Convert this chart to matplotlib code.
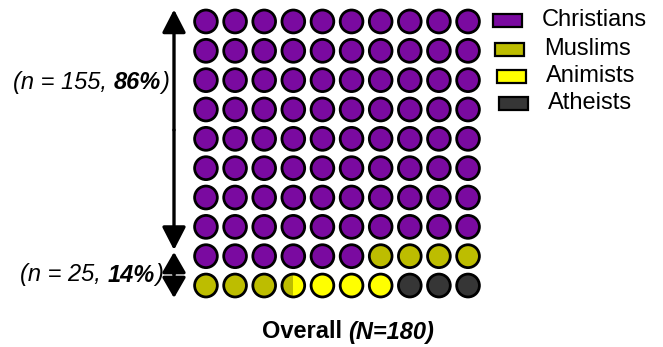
import matplotlib
matplotlib.use("Agg")
import matplotlib.pyplot as plt
from matplotlib.patches import Circle, Rectangle, FancyArrowPatch

plt.rcParams['font.family'] = ['Liberation Sans', 'DejaVu Sans']

# ---- data (each circle = 1% of N=180) ----
categories = ["Christians", "Muslims", "Animists", "Atheists"]
circle_units = [86, 7.5, 3.5, 3]
colors = ["#7A0AA0", "#BDBD00", "#FFFF00", "#363636"]
n_rows, n_cols = 10, 10
label_top = ("(n = 155, ", "86%", ")")
label_bottom = ("(n = 25, ", "14%", ")")
title_parts = ("Overall ", "(N=180)")

W, H = 663, 347
fig = plt.figure(figsize=(W / 100, H / 100), dpi=100)

# overlay axes in pixel coordinates for annotations
ov = fig.add_axes([0, 0, 1, 1])
ov.set_xlim(0, W)
ov.set_ylim(H, 0)
ov.axis('off')

# waffle axes
gx0, gx1, gy0, gy1 = 191.4, 482.6, 6.8, 300.2
ax = fig.add_axes([gx0 / W, 1 - gy1 / H, (gx1 - gx0) / W, (gy1 - gy0) / H])
ax.set_xlim(-0.5, n_cols - 0.5)
ax.set_ylim(n_rows - 0.5, -0.5)
ax.axis('off')

r = 0.39
bounds = []
acc = 0
for v in circle_units:
    bounds.append((acc, acc + v))
    acc += v

for i in range(n_rows * n_cols):
    row, col = divmod(i, n_cols)
    cx, cy = col, row
    clip = Circle((cx, cy), r, transform=ax.transData, facecolor='none', edgecolor='none')
    ax.add_patch(clip)
    for (a, b), c in zip(bounds, colors):
        lo, hi = max(a, i), min(b, i + 1)
        if hi > lo:
            f0, f1 = lo - i, hi - i
            rect = Rectangle((cx - r + 2 * r * f0, cy - r), 2 * r * (f1 - f0), 2 * r,
                             facecolor=c, edgecolor='none', zorder=1)
            ax.add_patch(rect)
            rect.set_clip_path(clip)
    ax.add_patch(Circle((cx, cy), r, facecolor='none', edgecolor='black', lw=2.0, zorder=2))

# arrows
ax_x = 174
big_mid = 130
for (ya, yb, hl) in [(big_mid, 9.5, 14), (big_mid, 250, 14), (274, 252, 12.5), (274, 298, 12.5)]:
    arr = FancyArrowPatch((ax_x, ya), (ax_x, yb),
                          arrowstyle=f'-|>,head_length={hl},head_width=7.2',
                          mutation_scale=1, lw=2.4, color='black',
                          shrinkA=0, shrinkB=0)
    ov.add_patch(arr)

fs = 17


def right_label(parts, x, y):
    t = ov.text(x, y, parts[2], style='italic', fontsize=fs, ha='right', va='center')
    t2 = ov.annotate(parts[1], xy=(0, 0), xycoords=t, fontsize=fs, style='italic',
                     fontweight='bold', ha='right', va='bottom')
    ov.annotate(parts[0], xy=(0, 0), xycoords=t2, fontsize=fs, style='italic',
                ha='right', va='bottom')


right_label(label_top, 169, 82)
right_label(label_bottom, 163, 275)

# title
t = ov.text(262, 332, title_parts[0], fontsize=fs, fontweight='bold', ha='left', va='center')
ov.annotate(title_parts[1], xy=(1, 0), xycoords=t, fontsize=fs, fontweight='bold',
            style='italic', ha='left', va='bottom')

# legend
leg_rect_x = [493, 495, 497, 499]
leg_text_x = [542, 544, 546, 548]
leg_y = [20, 49, 76, 103]
for cat, c, rx, tx, yy in zip(categories, colors, leg_rect_x, leg_text_x, leg_y):
    ov.add_patch(Rectangle((rx, yy - 6.5), 29, 13, facecolor=c, edgecolor='black', lw=1.6))
    ov.text(tx, yy, cat, fontsize=fs, ha='left', va='center')

fig.savefig("out.png", dpi=100)
